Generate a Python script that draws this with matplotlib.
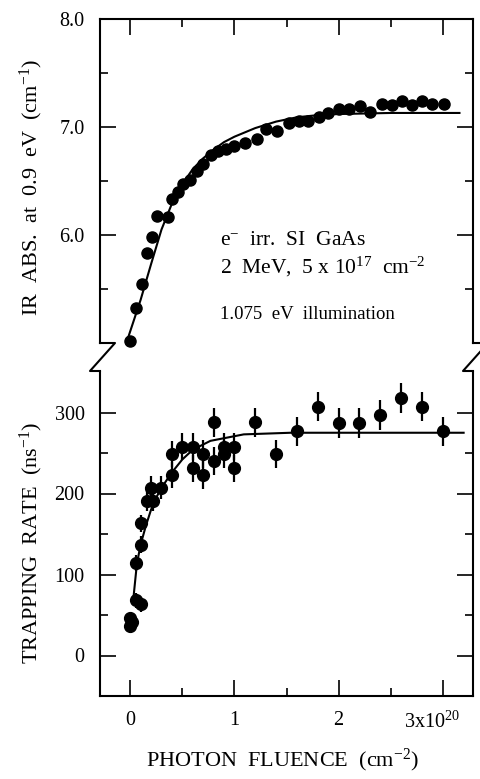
import matplotlib
matplotlib.use("Agg")
import matplotlib.pyplot as plt
from matplotlib.lines import Line2D
from matplotlib.transforms import ScaledTranslation

plt.rcParams['font.family'] = ['Liberation Serif', 'DejaVu Serif']
plt.rcParams['mathtext.fontset'] = 'custom'
plt.rcParams['mathtext.rm'] = 'Liberation Serif'
plt.rcParams['mathtext.it'] = 'Liberation Serif:italic'

# ---- data: top panel (IR absorption) ----
ir_x = [0.00, 0.06, 0.11, 0.16, 0.21, 0.26, 0.36, 0.40, 0.46, 0.51, 0.57, 0.64,
        0.70, 0.78, 0.84, 0.92, 1.00, 1.10, 1.22, 1.30, 1.41, 1.52, 1.62, 1.71,
        1.81, 1.90, 2.00, 2.10, 2.21, 2.30, 2.42, 2.51, 2.61, 2.70, 2.80, 2.90, 3.01]
ir_y = [5.02, 5.32, 5.55, 5.83, 5.98, 6.18, 6.17, 6.33, 6.40, 6.47, 6.51, 6.59,
        6.66, 6.74, 6.78, 6.80, 6.82, 6.85, 6.89, 6.98, 6.96, 7.04, 7.06, 7.06,
        7.09, 7.13, 7.17, 7.17, 7.19, 7.14, 7.21, 7.20, 7.24, 7.20, 7.24, 7.21, 7.21]
ir_fit_x = [-0.02, 0.10, 0.20, 0.30, 0.40, 0.50, 0.60, 0.70, 0.80, 0.90, 1.00,
            1.20, 1.40, 1.60, 1.80, 2.00, 2.50, 3.16]
ir_fit_y = [5.05, 5.40, 5.73, 6.05, 6.29, 6.47, 6.61, 6.71, 6.79, 6.86, 6.91,
            6.99, 7.05, 7.09, 7.11, 7.12, 7.13, 7.13]

# ---- data: bottom panel (trapping rate) ----
tr_x = [0.00, 0.00, 0.02, 0.06, 0.10, 0.06, 0.10, 0.10, 0.16, 0.22, 0.20, 0.30,
        0.40, 0.40, 0.50, 0.60, 0.60, 0.70, 0.70, 0.80, 0.80, 0.90, 0.90, 1.00,
        1.00, 1.20, 1.40, 1.60, 1.80, 2.00, 2.20, 2.40, 2.60, 2.80, 3.00]
tr_y = [36, 46, 41, 68, 63, 114, 137, 163, 191, 191, 207, 207,
        223, 249, 258, 258, 231, 249, 223, 240, 288, 258, 249, 258,
        231, 288, 249, 277, 307, 287, 287, 297, 318, 307, 277]
tr_err = [8, 8, 8, 9, 9, 10, 11, 11, 13, 13, 14, 14,
          16, 16, 17, 17, 17, 17, 17, 17, 18, 17, 17, 17,
          17, 18, 17, 18, 18, 18, 18, 18, 19, 18, 18]
tr_fit_x = [0.03, 0.064, 0.10, 0.15, 0.20, 0.25, 0.30, 0.40, 0.45, 0.50, 0.60,
            0.77, 1.09, 1.54, 2.00, 3.20]
tr_fit_y = [70, 113, 137, 160, 180, 195, 207, 226, 234, 242, 254,
            265, 273, 275, 275, 275]

x_major = [0, 1, 2, 3]
x_minor = [0.5, 1.5, 2.5]
x_labels = ['0', '1', '2', '3x10$^{20}$']
ir_major = [6.0, 7.0, 8.0]
ir_minor = [5.5, 6.5, 7.5]
ir_labels = ['6.0', '7.0', '8.0']
tr_major = [0, 100, 200, 300]
tr_minor = [50, 150, 250]
tr_labels = ['0', '100', '200', '300']

W, H = 480, 779
fig = plt.figure(figsize=(W / 100, H / 100), dpi=100)

L, R = 100, 473
top_t, top_b = 19, 343
bot_t, bot_b = 372, 696
ax1 = fig.add_axes([L / W, 1 - top_b / H, (R - L) / W, (top_b - top_t) / H])
ax2 = fig.add_axes([L / W, 1 - bot_b / H, (R - L) / W, (bot_b - bot_t) / H])

xlim = (-0.29, 3.29)
lw_spine = 1.5
tick_fs = 14.5
label_fs = 16

for ax in (ax1, ax2):
    ax.set_xlim(*xlim)
    for s in ax.spines.values():
        s.set_linewidth(lw_spine)
    ax.set_xticks(x_major)
    ax.set_xticks(x_minor, minor=True)
    ax.tick_params(which='major', direction='in', length=11.5, width=1.2,
                   labelsize=tick_fs, pad=11)
    ax.tick_params(which='minor', direction='in', length=6, width=1.2)

# top panel
ax1.plot(ir_fit_x, ir_fit_y, color='black', lw=1.5, zorder=2)
ax1.plot(ir_x, ir_y, 'o', color='black', ms=8, zorder=3, clip_on=False)
ax1.set_ylim(5.0, 8.0)
ax1.set_yticks(ir_major)
ax1.set_yticklabels(ir_labels)
ax1.set_yticks(ir_minor, minor=True)
ax1.spines['bottom'].set_visible(False)
ax1.tick_params(axis='x', which='both', top=True, bottom=False,
                labeltop=False, labelbottom=False)
ax1.tick_params(axis='y', which='both', left=True, right=True)
ax1.set_ylabel('IR  ABS.  at  0.9  eV  (cm$^{-1}$)', fontsize=label_fs, va='center')
ax1.yaxis.set_label_coords(-0.185, 0.48)

ax1.text(0.322, 0.315, 'e$^{-}$  irr.  SI  GaAs', transform=ax1.transAxes,
         fontsize=15.5, ha='left', va='center')
ax1.text(0.322, 0.236, '2  MeV,  5 x 10$^{17}$  cm$^{-2}$', transform=ax1.transAxes,
         fontsize=15.5, ha='left', va='center')
ax1.text(0.322, 0.087, '1.075  eV  illumination', transform=ax1.transAxes,
         fontsize=13.5, ha='left', va='center')

# bottom panel
ax2.errorbar(tr_x, tr_y, yerr=tr_err, fmt='o', color='black', ms=8.5,
             elinewidth=1.6, capsize=0, zorder=3)
ax2.plot(tr_fit_x, tr_fit_y, color='black', lw=1.5, zorder=2)
ax2.set_ylim(-50, 350)
ax2.set_yticks(tr_major)
ax2.set_yticklabels(tr_labels)
ax2.set_yticks(tr_minor, minor=True)
ax2.spines['top'].set_visible(False)
ax2.tick_params(axis='x', which='both', top=False, bottom=True)
ax2.tick_params(axis='y', which='both', left=True, right=True)
ax2.set_xticklabels(x_labels)
ax2.set_ylabel('TRAPPING  RATE  (ns$^{-1}$)', fontsize=label_fs, va='center')
ax2.yaxis.set_label_coords(-0.185, 0.472)
ax2.set_xlabel('PHOTON  FLUENCE  (cm$^{-2}$)', fontsize=label_fs, va='center')
ax2.xaxis.set_label_coords(0.488, -0.198)

# shift the last x tick label to the left like the original
lbls = ax2.get_xticklabels()
lbls[-1].set_transform(lbls[-1].get_transform() +
                       ScaledTranslation(-0.11, 0, fig.dpi_scale_trans))

# axis-break marks on both sides
def px(xp, yp):
    return xp / W, 1 - yp / H

for x0 in (L, R):
    pts = [px(x0, top_b), px(x0 + 15, top_b), px(x0 - 10, bot_t - 1), px(x0, bot_t - 1)]
    fig.add_artist(Line2D([p[0] for p in pts], [p[1] for p in pts],
                          color='black', lw=lw_spine, transform=fig.transFigure,
                          clip_on=False))

fig.savefig('out.png', dpi=100)
